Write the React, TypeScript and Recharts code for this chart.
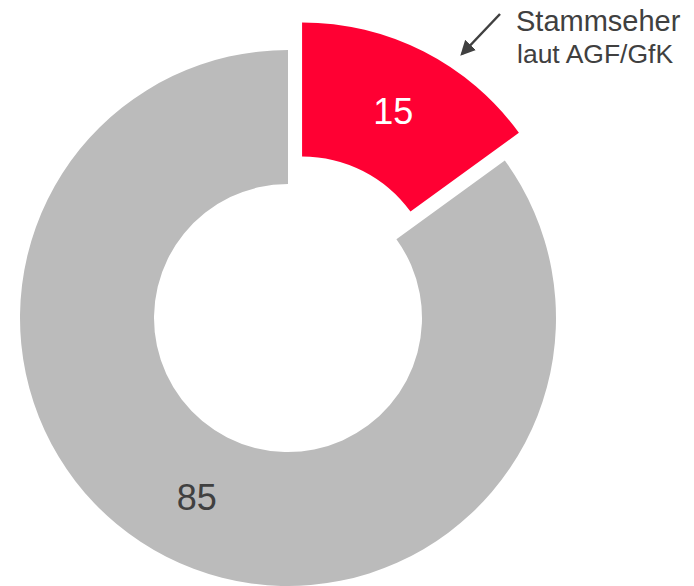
import { PieChart, Pie, Cell } from "recharts";

const names = ["Stammseher", "Andere"];
const values = [15, 85];
const colors = ["#FF0033", "#BBBBBB"];
const labelColors = ["#FFFFFF", "#404040"];

const data = names.map((name, i) => ({ name, value: values[i] }));

const W = 694;
const H = 586;
const CX = 288;
const CY = 318;
const OUTER = 268;
const INNER = 134;
const EXPLODE = 31;
const RADIAN = Math.PI / 180;

// red slice is pulled out along its mid angle
const redMid = 90 - (values[0] / (values[0] + values[1])) * 180;
const ex = CX + EXPLODE * Math.cos(redMid * RADIAN);
const ey = CY - EXPLODE * Math.sin(redMid * RADIAN);

const makeLabel = (only: number) => (props: any) => {
  const { cx, cy, midAngle, innerRadius, outerRadius, index, value } = props;
  if (index !== only) return null;
  const r = (innerRadius + outerRadius) / 2;
  const x = cx + r * Math.cos(-midAngle * RADIAN);
  const y = cy + r * Math.sin(-midAngle * RADIAN);
  return (
    <text
      x={x}
      y={y}
      fill={labelColors[index]}
      fontSize={36}
      fontFamily="Liberation Sans, Arial, sans-serif"
      textAnchor="middle"
      dominantBaseline="central"
    >
      {value}
    </text>
  );
};

export default function App() {
  return (
    <div style={{ position: "absolute", left: 0, top: 0, width: W, height: H }}>
      <PieChart width={W} height={H} margin={{ top: 0, right: 0, bottom: 0, left: 0 }}>
        <Pie
          data={data}
          dataKey="value"
          cx={CX}
          cy={CY}
          innerRadius={INNER}
          outerRadius={OUTER}
          startAngle={90}
          endAngle={-270}
          stroke="none"
          label={makeLabel(1)}
          labelLine={false}
          isAnimationActive={false}
        >
          {data.map((d, i) => (
            <Cell key={d.name} fill={i === 1 ? colors[i] : "transparent"} />
          ))}
        </Pie>
        <Pie
          data={data}
          dataKey="value"
          cx={ex}
          cy={ey}
          innerRadius={INNER}
          outerRadius={OUTER}
          startAngle={90}
          endAngle={-270}
          stroke="none"
          label={makeLabel(0)}
          labelLine={false}
          isAnimationActive={false}
        >
          {data.map((d, i) => (
            <Cell key={d.name} fill={i === 0 ? colors[i] : "transparent"} />
          ))}
        </Pie>
      </PieChart>
      <svg
        width={W}
        height={H}
        style={{ position: "absolute", left: 0, top: 0, pointerEvents: "none" }}
      >
        <defs>
          <marker
            id="arrowHead"
            markerWidth="6"
            markerHeight="6"
            refX="5"
            refY="3"
            orient="auto"
            markerUnits="strokeWidth"
          >
            <path d="M0,0 L6,3 L0,6 Z" fill="#404040" />
          </marker>
        </defs>
        <line
          x1={500}
          y1={14}
          x2={462}
          y2={54}
          stroke="#404040"
          strokeWidth={2.5}
          markerEnd="url(#arrowHead)"
        />
        <text
          x={516}
          y={31}
          fill="#404040"
          fontSize={29}
          fontFamily="Liberation Sans, Arial, sans-serif"
        >
          Stammseher
        </text>
        <text
          x={517}
          y={63}
          fill="#404040"
          fontSize={26.5}
          fontFamily="Liberation Sans, Arial, sans-serif"
        >
          laut AGF/GfK
        </text>
      </svg>
    </div>
  );
}
